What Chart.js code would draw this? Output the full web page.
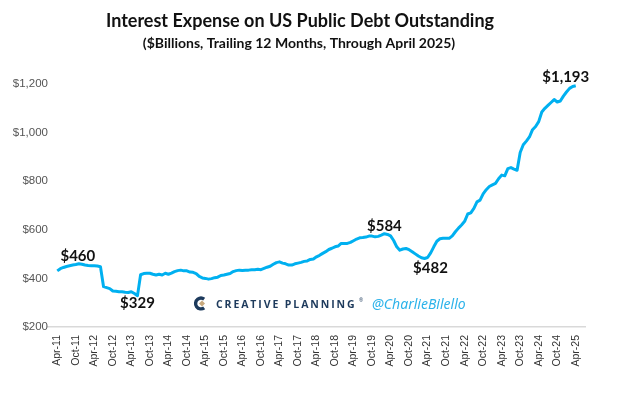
<!DOCTYPE html>
<html>
<head>
<meta charset="utf-8">
<script src="https://cdn.jsdelivr.net/npm/chart.js@4.4.1/dist/chart.umd.min.js"></script>
<style>
  html, body { margin: 0; padding: 0; background: #fff; }
  #wrap { width: 624px; height: 396px; }
</style>
</head>
<body>
<div id="wrap"><canvas id="debtChart"></canvas></div>
<script>
// Interest expense on US public debt, trailing 12 months ($bn), monthly Apr-11 .. Apr-25
const titleText = 'Interest Expense on US Public Debt Outstanding';
const subtitleText = '($Billions, Trailing 12 Months, Through April 2025)';

const tickLabels = ['Apr-11', 'Oct-11', 'Apr-12', 'Oct-12', 'Apr-13', 'Oct-13', 'Apr-14', 'Oct-14',
  'Apr-15', 'Oct-15', 'Apr-16', 'Oct-16', 'Apr-17', 'Oct-17', 'Apr-18', 'Oct-18', 'Apr-19',
  'Oct-19', 'Apr-20', 'Oct-20', 'Apr-21', 'Oct-21', 'Apr-22', 'Oct-22', 'Apr-23', 'Oct-23',
  'Apr-24', 'Oct-24', 'Apr-25'];

const expense = [
  431, 440, 445, 449, 452, 455, 457, 460, 458,                  // 2011 Apr-Dec
  455, 453, 452, 452, 451, 448, 366, 362, 358, 348, 347, 345,   // 2012
  345, 343, 342, 345, 338, 329, 415, 420, 421, 421, 417, 414,   // 2013
  417, 414, 421, 417, 422, 428, 432, 434, 431, 431, 426, 425,   // 2014
  420, 408, 402, 400, 397, 399, 403, 405, 412, 414, 417, 420,   // 2015
  428, 432, 434, 433, 434, 434, 436, 436, 438, 436, 441, 446,   // 2016
  450, 458, 465, 468, 463, 460, 455, 455, 460, 463, 466, 470,   // 2017
  472, 478, 480, 489, 495, 503, 510, 519, 524, 530, 533, 544,   // 2018
  544, 544, 548, 555, 562, 567, 568, 570, 574, 574, 571, 573,   // 2019
  578, 584, 581, 575, 556, 530, 516, 521, 523, 518, 510, 501,   // 2020
  492, 485, 482, 486, 505, 530, 553, 563, 565, 565, 565, 575,   // 2021
  592, 607, 620, 635, 665, 670, 688, 715, 722, 748, 765, 778,   // 2022
  785, 791, 810, 825, 822, 852, 856, 850, 845, 918, 950, 965,   // 2023
  982, 1012, 1025, 1045, 1085, 1100, 1112, 1124, 1136, 1126, 1130, 1150, // 2024
  1167, 1182, 1190, 1193                                        // 2025 Jan-Apr
];

// months that get a value callout
const calloutIdx = [7, 26, 106, 119, 168];

Chart.defaults.font.family = '"Liberation Sans", Arial, sans-serif';

const notes = {
  id: 'notes',
  afterDraw(chart) {
    const { ctx, scales: { x, y } } = chart;
    ctx.save();
    ctx.fillStyle = '#111';
    ctx.textAlign = 'center';
    ctx.textBaseline = 'middle';
    ctx.font = 'bold 18px Lato, sans-serif';
    ctx.fillText(titleText, 300, 21);
    ctx.font = 'bold 14px Lato, sans-serif';
    ctx.fillText(subtitleText, 299, 43);

    // callouts: [dx, dy] from the point to the text baseline centre
    const off = { 7: [-1, -3], 26: [0, 12], 106: [0, -3], 119: [6, 15], 168: [-10, -4] };
    ctx.font = 'bold 15px Lato, sans-serif';
    ctx.textBaseline = 'alphabetic';
    calloutIdx.forEach(i => {
      const px = x.getPixelForValue(i);
      const py = y.getPixelForValue(expense[i]);
      const [dx, dy] = off[i];
      ctx.fillText('$' + expense[i].toLocaleString('en-US'), px + dx, py + dy);
    });

    // watermark
    ctx.lineWidth = 3.4;
    ctx.strokeStyle = '#1d3a5c';
    ctx.beginPath();
    ctx.arc(201, 303.5, 5.4, 0.3 * Math.PI, 1.7 * Math.PI);
    ctx.stroke();
    ctx.fillStyle = '#c8a97e';
    ctx.beginPath();
    ctx.moveTo(202, 300.5); ctx.lineTo(205, 303.5); ctx.lineTo(202, 306.5); ctx.lineTo(199, 303.5);
    ctx.closePath();
    ctx.fill();

    ctx.fillStyle = '#1d3a5c';
    ctx.textAlign = 'left';
    ctx.font = 'bold 10.5px "Open Sans", sans-serif';
    ctx.letterSpacing = '1.9px';
    ctx.fillText('CREATIVE PLANNING', 216, 307.5);
    ctx.letterSpacing = '0px';
    ctx.font = '5px "Open Sans", sans-serif';
    ctx.fillText('®', 359, 302);

    ctx.fillStyle = '#2db3ea';
    ctx.font = 'italic 14px "Noto Sans", sans-serif';
    ctx.fillText('@CharlieBilello', 372, 308.5);
    ctx.restore();
  }
};

new Chart(document.getElementById('debtChart'), {
  type: 'line',
  data: {
    datasets: [{
      label: 'Interest Expense ($bn)',
      data: expense.map((v, i) => ({ x: i, y: v })),
      borderColor: '#00b0f0',
      borderWidth: 3,
      pointRadius: 0,
      tension: 0,
      borderJoinStyle: 'round',
      fill: false
    }]
  },
  options: {
    responsive: true,
    maintainAspectRatio: false,
    animation: false,
    layout: { padding: { top: 84, right: 39, left: 0, bottom: 0 } },
    plugins: {
      legend: { display: false },
      tooltip: { enabled: false }
    },
    scales: {
      x: {
        type: 'linear',
        min: -3,
        max: 171,
        afterBuildTicks: ax => { ax.ticks = tickLabels.map((t, k) => ({ value: k * 6 })); },
        afterFit: ax => { ax.height = 69; },
        grid: { display: false, drawTicks: false },
        border: { display: true, color: '#d9d9d9', width: 1.5 },
        ticks: {
          autoSkip: false,
          minRotation: 90,
          maxRotation: 90,
          padding: 8,
          color: '#333',
          font: { size: 10.5, family: '"Liberation Sans Narrow", "Liberation Sans", sans-serif' },
          callback: (v, idx) => tickLabels[idx]
        }
      },
      y: {
        min: 200,
        max: 1200,
        afterFit: ax => { ax.width = 48; },
        grid: { display: false, drawTicks: false },
        border: { display: false },
        ticks: {
          stepSize: 200,
          padding: 0,
          color: '#555',
          font: { size: 11.5 },
          callback: v => '$' + v.toLocaleString('en-US')
        }
      }
    }
  },
  plugins: [notes]
});
</script>
</body>
</html>
